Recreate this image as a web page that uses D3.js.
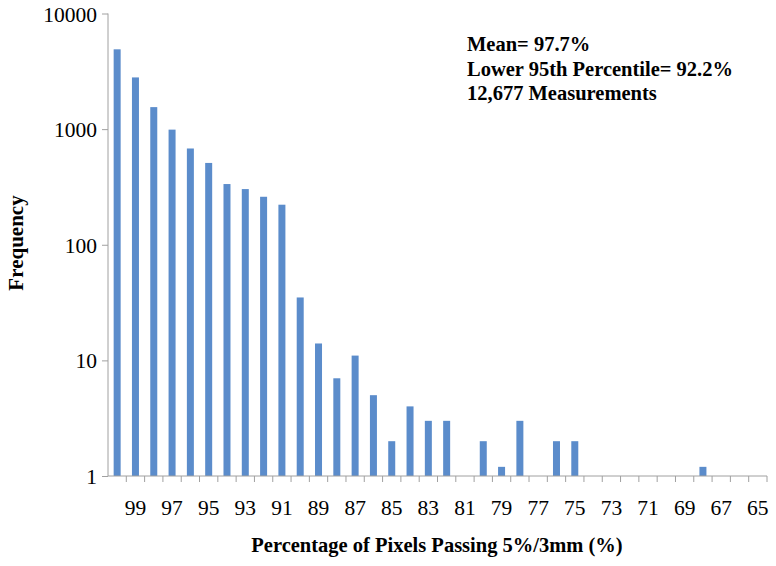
<!DOCTYPE html>
<html>
<head>
<meta charset="utf-8">
<script src="https://cdn.jsdelivr.net/npm/d3@7"></script>
<style>
  body { margin: 0; background: #fff; }
  text { font-family: "Liberation Serif", "Times New Roman", serif; }
</style>
</head>
<body>
<div id="chart"></div>
<script>
// percentage bins, 100 down to 65
var categories = [100, 99, 98, 97, 96, 95, 94, 93, 92, 91, 90, 89, 88, 87, 86, 85, 84, 83,
                  82, 81, 80, 79, 78, 77, 76, 75, 74, 73, 72, 71, 70, 69, 68, 67, 66, 65];
// frequency per bin (0 = no bar)
var frequency = [4900, 2800, 1550, 990, 680, 510, 335, 303, 260, 222, 35, 14, 7, 11, 5, 2, 4, 3,
                 3, 0, 2, 1.2, 3, 0, 2, 2, 0, 0, 0, 0, 0, 0, 1.2, 0, 0, 0];
var yTicks = [1, 10, 100, 1000, 10000];
var notes = ["Mean= 97.7%", "Lower 95th Percentile= 92.2%", "12,677 Measurements"];

var svgWidth = 776;
var svgHeight = 566;
var margin = { top: 13.5, right: 9, bottom: 90, left: 108 };
var width = svgWidth - margin.left - margin.right;
var height = svgHeight - margin.top - margin.bottom;

var svg = d3.select("#chart")
            .append("svg")
            .attr("width", svgWidth)
            .attr("height", svgHeight);

var chartGroup = svg.append("g")
                    .attr("transform", `translate(${margin.left}, ${margin.top})`);

var data = categories.map((c, i) => ({ cat: c, value: frequency[i] }));

var xScale = d3.scaleBand()
    .domain(categories)
    .range([0, width]);

var yScale = d3.scaleLog()
    .domain([1, 10000])
    .range([height, 0]);

// bars
var barWidth = 7;
chartGroup.selectAll("rect")
    .data(data.filter(d => d.value > 0))
    .enter()
    .append("rect")
    .attr("x", d => xScale(d.cat) + xScale.bandwidth() / 2 - barWidth / 2)
    .attr("y", d => yScale(d.value))
    .attr("width", barWidth)
    .attr("height", d => height - yScale(d.value))
    .attr("fill", "#5b8ccb");

// y axis
var leftAxis = d3.axisLeft(yScale)
    .tickValues(yTicks)
    .tickFormat(d3.format("d"))
    .tickSize(6)
    .tickPadding(5);

var yAxis = chartGroup.append("g").call(leftAxis);
yAxis.attr("font-family", null);
yAxis.select(".domain").attr("stroke", "#a0a0a0").attr("d", `M0,0V${height}`);
yAxis.selectAll(".tick line").attr("stroke", "#a0a0a0");
yAxis.selectAll(".tick text")
    .attr("font-size", "21.5px")
    .attr("fill", "#000")
    .attr("dy", "0.35em");

// x axis: ticks at category boundaries, labels on every other bin
var xAxis = chartGroup.append("g")
    .attr("transform", `translate(0, ${height})`);

xAxis.append("line")
    .attr("x1", 0)
    .attr("x2", width)
    .attr("stroke", "#a0a0a0");

var bounds = d3.range(categories.length + 1).map(i => i * xScale.step());
xAxis.selectAll(".xtick")
    .data(bounds.slice(1))
    .enter()
    .append("line")
    .attr("x1", d => d)
    .attr("x2", d => d)
    .attr("y1", 0)
    .attr("y2", 6)
    .attr("stroke", "#a0a0a0");

xAxis.selectAll(".xlabel")
    .data(categories.filter((c, i) => i % 2 === 1))
    .enter()
    .append("text")
    .attr("x", d => xScale(d) + xScale.bandwidth() / 2)
    .attr("y", 39)
    .attr("text-anchor", "middle")
    .attr("font-size", "21.5px")
    .text(d => d);

// axis titles
svg.append("text")
    .attr("transform", "rotate(-90)")
    .attr("x", -243)
    .attr("y", 23)
    .attr("text-anchor", "middle")
    .attr("font-size", "21px")
    .attr("font-weight", "bold")
    .text("Frequency");

svg.append("text")
    .attr("x", 437)
    .attr("y", 552)
    .attr("text-anchor", "middle")
    .attr("font-size", "20.5px")
    .attr("font-weight", "bold")
    .text("Percentage of Pixels Passing 5%/3mm (%)");

// summary note
svg.append("g")
    .selectAll("text")
    .data(notes)
    .enter()
    .append("text")
    .attr("x", 467)
    .attr("y", (d, i) => 51 + i * 24.5)
    .attr("font-size", "20.5px")
    .attr("font-weight", "bold")
    .text(d => d);
</script>
</body>
</html>
